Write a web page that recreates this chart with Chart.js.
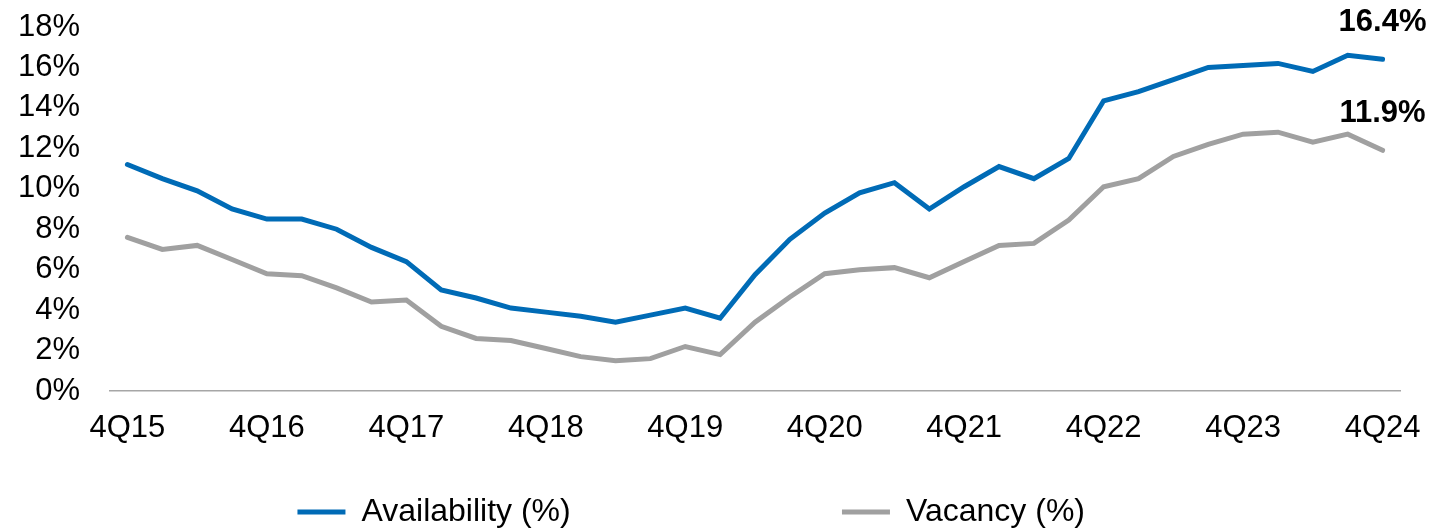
<!DOCTYPE html>
<html>
<head>
<meta charset="utf-8">
<script src="https://cdn.jsdelivr.net/npm/chart.js@4/dist/chart.umd.min.js"></script>
<style>
    html, body { margin: 0; padding: 0; background: #ffffff; }
    #wrap { width: 1433px; height: 531px; position: relative; }
</style>
</head>
<body>
<div id="wrap"><canvas id="rateChart"></canvas></div>
<script>
const quarters = [
    '4Q15', '1Q16', '2Q16', '3Q16', '4Q16', '1Q17', '2Q17', '3Q17', '4Q17',
    '1Q18', '2Q18', '3Q18', '4Q18', '1Q19', '2Q19', '3Q19', '4Q19',
    '1Q20', '2Q20', '3Q20', '4Q20', '1Q21', '2Q21', '3Q21', '4Q21',
    '1Q22', '2Q22', '3Q22', '4Q22', '1Q23', '2Q23', '3Q23', '4Q23',
    '1Q24', '2Q24', '3Q24', '4Q24'
];
const availability = [
    11.2, 10.5, 9.9, 9.0, 8.5, 8.5, 8.0, 7.1, 6.4,
    5.0, 4.6, 4.1, 3.9, 3.7, 3.4, 3.75, 4.1,
    3.6, 5.75, 7.5, 8.8, 9.8, 10.3, 9.0, 10.1,
    11.1, 10.5, 11.5, 14.35, 14.8, 15.4, 16.0, 16.1,
    16.2, 15.8, 16.6, 16.4
];
const vacancy = [
    7.6, 7.0, 7.2, 6.5, 5.8, 5.7, 5.1, 4.4, 4.5,
    3.2, 2.6, 2.5, 2.1, 1.7, 1.5, 1.6, 2.2,
    1.8, 3.4, 4.65, 5.8, 6.0, 6.1, 5.6, 6.4,
    7.2, 7.3, 8.45, 10.1, 10.5, 11.6, 12.2, 12.7,
    12.8, 12.3, 12.7, 11.9
];
const seriesNames = ['Availability (%)', 'Vacancy (%)'];
const endLabels = ['16.4%', '11.9%'];

const FONT = "'Liberation Sans', Arial, sans-serif";

// bold value label above the last point of each line
const endLabelPlugin = {
    id: 'endLabels',
    afterDatasetsDraw(chart) {
        const ctx = chart.ctx;
        ctx.save();
        ctx.font = 'bold 31px ' + FONT;
        ctx.fillStyle = '#000000';
        ctx.textAlign = 'center';
        ctx.textBaseline = 'middle';
        chart.data.datasets.forEach((ds, i) => {
            const meta = chart.getDatasetMeta(i);
            const pt = meta.data[meta.data.length - 1];
            ctx.fillText(endLabels[i], pt.x, pt.y - 37);
        });
        ctx.restore();
    }
};

const ctx = document.getElementById('rateChart').getContext('2d');
new Chart(ctx, {
    type: 'line',
    data: {
        labels: quarters,
        datasets: [
            {
                label: seriesNames[0],
                data: availability,
                borderColor: '#006bb6',
                backgroundColor: '#006bb6',
                borderWidth: 5,
                borderCapStyle: 'round',
                pointRadius: 0,
                tension: 0
            },
            {
                label: seriesNames[1],
                data: vacancy,
                borderColor: '#a0a0a0',
                backgroundColor: '#a0a0a0',
                borderWidth: 5,
                borderCapStyle: 'round',
                pointRadius: 0,
                tension: 0
            }
        ]
    },
    options: {
        responsive: true,
        maintainAspectRatio: false,
        animation: false,
        layout: {
            padding: { top: 27, left: 18, right: 33, bottom: 0 }
        },
        scales: {
            x: {
                offset: true,
                grid: { display: false, drawTicks: false },
                border: { display: true, color: '#a6a6a6', width: 1.5 },
                afterFit: function (scale) {
                    scale.height = 56;
                    scale.paddingLeft = 0;
                    scale.paddingRight = 0;
                },
                ticks: {
                    autoSkip: false,
                    maxRotation: 0,
                    padding: 19,
                    color: '#000000',
                    font: { family: FONT, size: 31 },
                    callback: function (value, index) {
                        return index % 4 === 0 ? quarters[index] : '';
                    }
                }
            },
            y: {
                min: 0,
                max: 18,
                grid: { display: false, drawTicks: false },
                border: { display: false },
                afterFit: function (scale) {
                    scale.width = 92;
                    scale.paddingTop = 0;
                    scale.paddingBottom = 0;
                },
                ticks: {
                    autoSkip: false,
                    stepSize: 2,
                    padding: 30,
                    color: '#000000',
                    font: { family: FONT, size: 31 },
                    callback: function (value) {
                        return value + '%';
                    }
                }
            }
        },
        plugins: {
            tooltip: { enabled: false },
            legend: {
                position: 'bottom',
                maxHeight: 84,
                labels: {
                    usePointStyle: true,
                    pointStyle: 'line',
                    pointStyleWidth: 48,
                    padding: 49,
                    color: '#000000',
                    font: { family: FONT, size: 32 },
                    generateLabels: function (chart) {
                        const items = Chart.defaults.plugins.legend.labels.generateLabels(chart);
                        // wide gap between the two entries, as in the original
                        items[0].text = items[0].text + ' '.repeat(25);
                        items[1].text = items[1].text + ' '.repeat(4);
                        return items;
                    }
                }
            }
        }
    },
    plugins: [endLabelPlugin]
});
</script>
</body>
</html>
